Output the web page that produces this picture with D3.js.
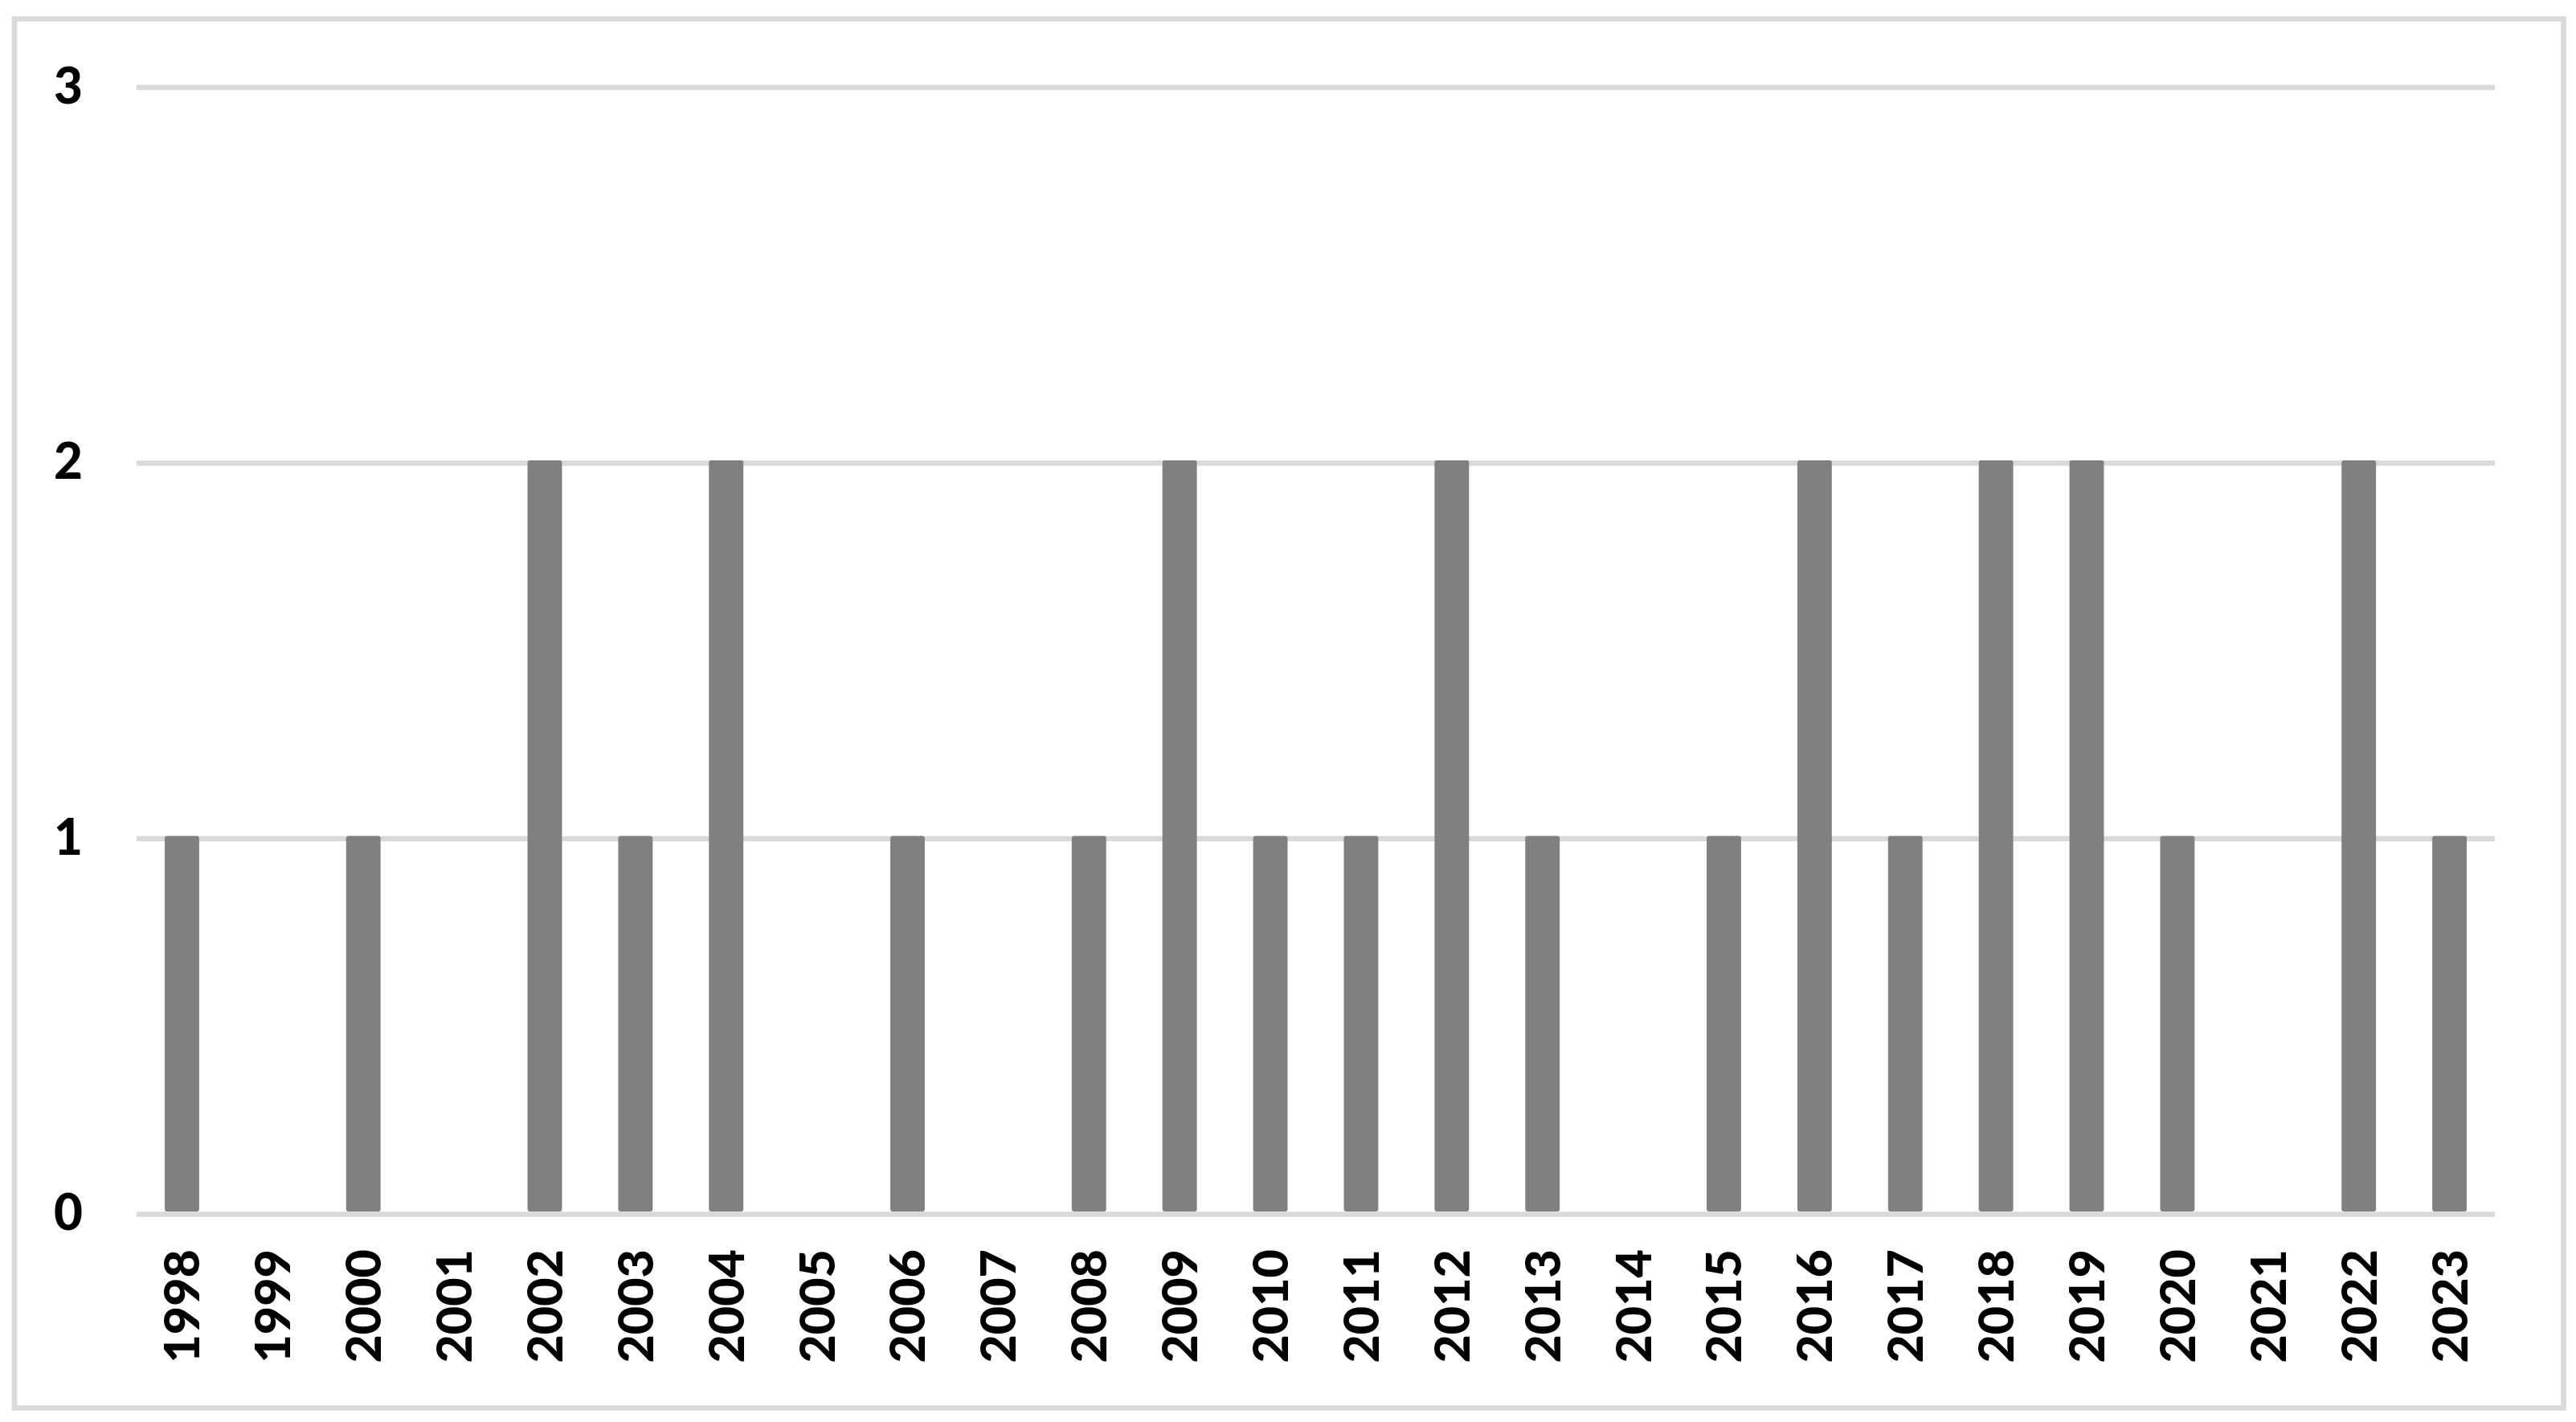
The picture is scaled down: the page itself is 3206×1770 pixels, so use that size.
<!DOCTYPE html>
<html>
<head>
<meta charset="utf-8">
<script src="https://cdn.jsdelivr.net/npm/d3@7"></script>
<style>
  html, body { margin: 0; padding: 0; background: #ffffff; }
  svg { display: block; }
  text { font-family: "Lato", "Liberation Sans", sans-serif; font-weight: 900; fill: #000; }
</style>
</head>
<body>
<svg id="chart" width="3206" height="1770"></svg>
<script>
const years = ["1998","1999","2000","2001","2002","2003","2004","2005","2006","2007","2008","2009","2010","2011","2012","2013","2014","2015","2016","2017","2018","2019","2020","2021","2022","2023"];
const counts = [1,0,1,0,2,1,2,0,1,0,1,2,1,1,2,1,0,1,2,1,2,2,1,0,2,1];
const yTicks = [0,1,2,3];

const svg = d3.select("#chart");
const W = 3206, H = 1770;
const plot = { left: 170, right: 3105, top: 108.5, bottom: 1511 };

svg.append("rect").attr("width", W).attr("height", H).attr("fill", "#fff");
svg.append("rect")
  .attr("x", 18).attr("y", 23.5).attr("width", 3172.5).attr("height", 1729)
  .attr("fill", "none").attr("stroke", "#d9d9d9").attr("stroke-width", 6.5);

const x = d3.scaleBand().domain(years).range([plot.left, plot.right])
  .paddingInner(0.62).paddingOuter(0.31);
const y = d3.scaleLinear().domain([0, 3]).range([plot.bottom, plot.top]);

const yAxis = svg.append("g").attr("transform", `translate(${plot.left},0)`)
  .call(d3.axisLeft(y).tickValues(yTicks).tickFormat(d3.format("d"))
    .tickSize(-(plot.right - plot.left)).tickPadding(67));
yAxis.select(".domain").remove();
yAxis.selectAll(".tick line").attr("stroke", "#d9d9d9").attr("stroke-width", 6.5);
yAxis.selectAll(".tick text").attr("font-size", 62).attr("font-family", "Lato").attr("font-weight", 900).attr("fill", "#000");

svg.append("g").selectAll("rect").data(years.map((d, i) => ({ year: d, v: counts[i] })))
  .join("rect")
  .attr("x", d => x(d.year))
  .attr("width", x.bandwidth())
  .attr("y", d => y(d.v) - 3)
  .attr("height", d => d.v > 0 ? y(0) - y(d.v) : 0)
  .attr("rx", 3)
  .attr("fill", "#808080");

const xAxis = svg.append("g").attr("transform", `translate(0,${plot.bottom})`)
  .call(d3.axisBottom(x).tickSize(0).tickPadding(0));
xAxis.select(".domain").remove();
xAxis.selectAll(".tick text")
  .attr("transform", "rotate(-90)")
  .attr("text-anchor", "end")
  .attr("x", -44).attr("y", 0).attr("dy", "0.36em")
  .attr("font-size", 61).attr("font-family", "Lato").attr("font-weight", 900).attr("fill", "#000");
</script>
</body>
</html>
